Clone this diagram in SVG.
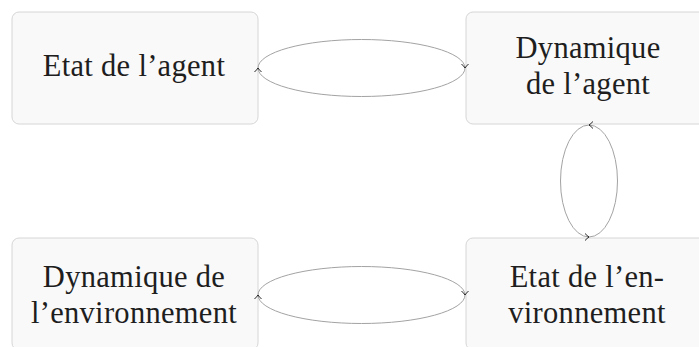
<svg xmlns="http://www.w3.org/2000/svg" width="699" height="347" viewBox="0 0 699 347">
<defs>
<style>
.box{fill:#f9f9f9;stroke:#d6d6d6;stroke-width:1}
.lbl{font-family:"Liberation Serif","DejaVu Serif",serif;font-size:30.5px;letter-spacing:0.3px;fill:#1e1e1e;text-anchor:middle}
.edge{fill:none;stroke:#a3a3a3;stroke-width:1}
</style>
<marker id="arr" viewBox="-5 -4 6 8" markerWidth="6" markerHeight="8" refX="0" refY="0" orient="auto" markerUnits="userSpaceOnUse">
<path d="M-4,-3.5 Q-1.8,-1.2 0,0 Q-1.8,1.2 -4,3.5" fill="none" stroke="#111" stroke-width="0.9"/>
</marker>
</defs>
<rect width="699" height="347" fill="#ffffff"/>
<g id="etat-agent">
<rect class="box" x="12" y="12" width="246" height="112" rx="7"/>
<text class="lbl" x="134" y="76">Etat de l’agent</text>
</g>
<g id="dynamique-agent">
<rect class="box" x="466" y="12" width="246" height="112" rx="7"/>
<text class="lbl" x="588" y="58">Dynamique</text>
<text class="lbl" x="588" y="94">de l’agent</text>
</g>
<g id="dynamique-env">
<rect class="box" x="12" y="238" width="246" height="112" rx="7"/>
<text class="lbl" x="134" y="287">Dynamique de</text>
<text class="lbl" x="134" y="323">l’environnement</text>
</g>
<g id="etat-env">
<rect class="box" x="466" y="238" width="246" height="112" rx="7"/>
<text class="lbl" x="587" y="287">Etat de l’en-</text>
<text class="lbl" x="587" y="323">vironnement</text>
</g>
<g id="connectors">
<path class="edge" marker-end="url(#arr)" d="M258,68 A103.5,28.5 0 0 1 465,68"/>
<path class="edge" marker-end="url(#arr)" d="M465,68 A103.5,28.5 0 0 1 258,68"/>
<path class="edge" marker-end="url(#arr)" d="M589,237 A28.5,56 0 0 0 589,125"/>
<path class="edge" marker-end="url(#arr)" d="M589,125 A28.5,56 0 0 0 589,237"/>
<path class="edge" marker-end="url(#arr)" d="M258,295 A103.5,28.5 0 0 1 465,295"/>
<path class="edge" marker-end="url(#arr)" d="M465,295 A103.5,28.5 0 0 1 258,295"/>
</g>
</svg>
